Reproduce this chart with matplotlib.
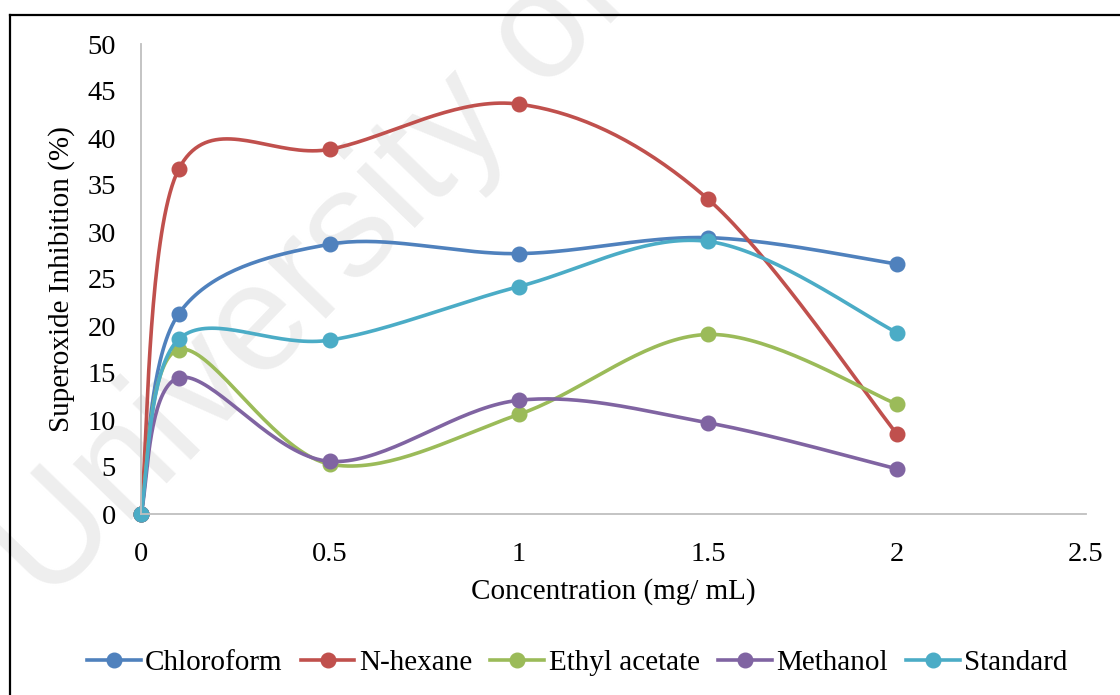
import numpy as np
import matplotlib
matplotlib.use("Agg")
import matplotlib.pyplot as plt
from matplotlib.lines import Line2D

plt.rcParams['font.family'] = ['Liberation Serif', 'DejaVu Serif']

# concentrations (mg/mL) and % superoxide inhibition per extract
conc = [0, 0.1, 0.5, 1, 1.5, 2]
chloroform = [0, 21.3, 28.7, 27.7, 29.4, 26.6]
n_hexane = [0, 36.7, 38.8, 43.6, 33.5, 8.5]
ethyl_acetate = [0, 17.5, 5.3, 10.6, 19.1, 11.7]
methanol = [0, 14.5, 5.6, 12.1, 9.7, 4.8]
standard = [0, 18.6, 18.5, 24.2, 29.0, 19.3]

series = [
    ("Chloroform", chloroform, "#4F81BD"),
    ("N-hexane", n_hexane, "#C0504D"),
    ("Ethyl acetate", ethyl_acetate, "#9BBB59"),
    ("Methanol", methanol, "#8064A2"),
    ("Standard", standard, "#4BACC6"),
]


def smooth_curve(x, y, n=40):
    # spreadsheet-style smoothed line: cubic Bezier segments, tension 1/6
    pts = np.column_stack([x, y]).astype(float)
    last = len(pts) - 1
    t = np.linspace(0, 1, n)[1:, None]
    out = [pts[:1]]
    for i in range(last):
        p0 = pts[max(i - 1, 0)]
        p1 = pts[i]
        p2 = pts[i + 1]
        p3 = pts[min(i + 2, last)]
        c1 = p1 + (p2 - p0) / 6
        c2 = p2 - (p3 - p1) / 6
        seg = ((1 - t) ** 3 * p1 + 3 * (1 - t) ** 2 * t * c1
               + 3 * (1 - t) * t ** 2 * c2 + t ** 3 * p2)
        out.append(seg)
    curve = np.vstack(out)
    marks = [k * (n - 1) for k in range(len(pts))]
    return curve[:, 0], curve[:, 1], marks


W, H = 1120, 695
fig = plt.figure(figsize=(W / 100, H / 100), dpi=100)
ax = fig.add_axes([141 / W, 1 - 514 / H, (1086 - 141) / W, (514 - 44) / H])
ax.patch.set_visible(False)

# faint watermark behind the plot
fig.text(312 / W, 1 - 278 / H, "University of", fontsize=110,
         family="Liberation Sans", color="#EEEEEE", rotation=46,
         ha="center", va="center", zorder=-1)

for name, vals, col in series:
    sx, sy, marks = smooth_curve(conc, vals)
    ax.plot(sx, sy, color=col, lw=2.6, marker="o", ms=10.5,
            markevery=marks, label=name, clip_on=False)

ax.set_xlim(0, 2.5)
ax.set_ylim(0, 50)
ax.set_xticks(np.arange(0, 2.51, 0.5))
ax.set_xticklabels(["0", "0.5", "1", "1.5", "2", "2.5"])
ax.set_yticks(np.arange(0, 51, 5))

for side in ("top", "right"):
    ax.spines[side].set_visible(False)
for side in ("left", "bottom"):
    ax.spines[side].set_color("#BFBFBF")
    ax.spines[side].set_linewidth(1.3)

ax.tick_params(axis="both", length=0, labelsize=20.5)
ax.tick_params(axis="y", pad=18)
ax.tick_params(axis="x", pad=20)

ax.set_xlabel("Concentration (mg/ mL)", fontsize=21, va="center")
ax.xaxis.set_label_coords(0.5, (514 - 592) / 470)
ax.set_ylabel("Superoxide Inhibition (%)", fontsize=21, va="center")
ax.yaxis.set_label_coords((62 - 141) / 945, 0.5)

fig.legend(loc="center", bbox_to_anchor=(577 / W, 1 - 663 / H), ncol=5,
           frameon=False, fontsize=21, handlelength=1.85, handletextpad=0.15,
           columnspacing=0.62, borderaxespad=0)

# outer frame (left and top edges)
fig.add_artist(Line2D([10 / W, 10 / W], [0, 1 - 15 / H], color="black",
                      lw=1.6, transform=fig.transFigure))
fig.add_artist(Line2D([10 / W, 1], [1 - 15 / H, 1 - 15 / H], color="black",
                      lw=1.6, transform=fig.transFigure))

fig.savefig("out.png", dpi=100)
